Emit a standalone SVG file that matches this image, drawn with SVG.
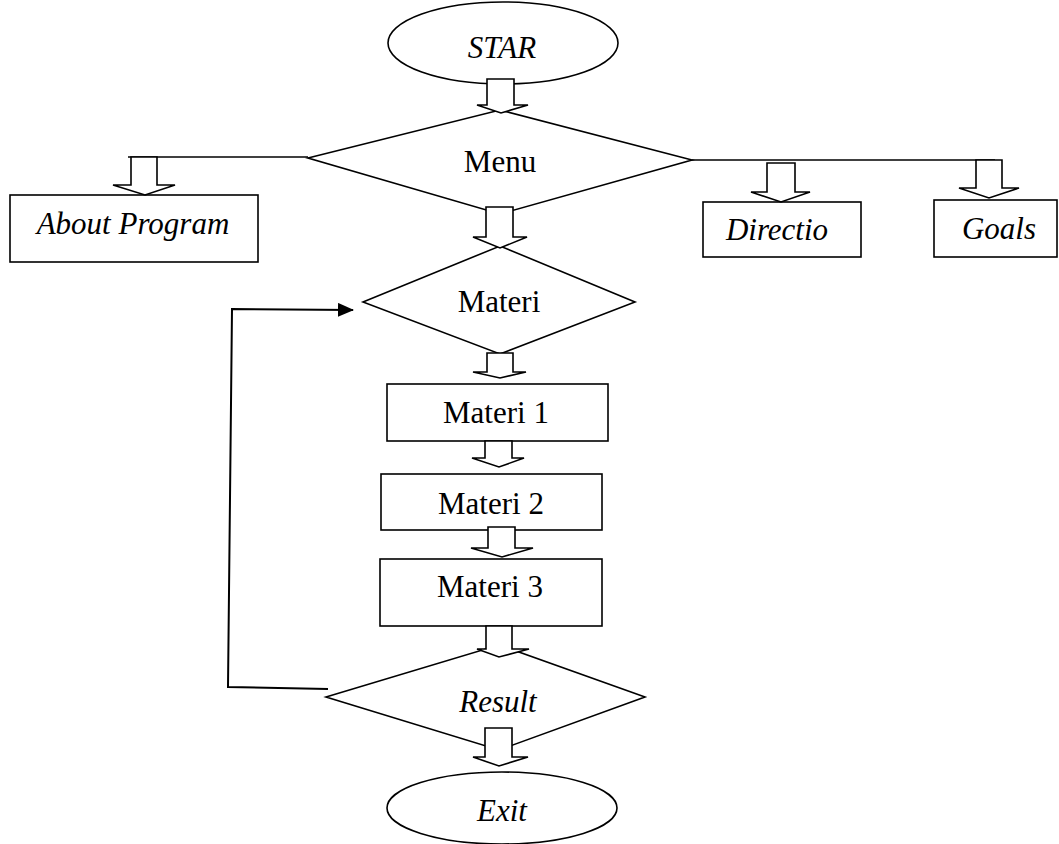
<svg xmlns="http://www.w3.org/2000/svg" width="1059" height="844" viewBox="0 0 1059 844">
<defs>
<style>
.s{fill:#fff;stroke:#000;stroke-width:1.6}
.l{fill:none;stroke:#000;stroke-width:1.6}
.lb{fill:none;stroke:#000;stroke-width:2}
.t{font-family:"Liberation Serif","Times New Roman",serif;font-size:31px;text-anchor:middle;fill:#000}
.i{font-style:italic}
.ba{fill:#fff;stroke:#000;stroke-width:1.6;stroke-linejoin:miter}
</style>
<marker id="ah" markerWidth="16" markerHeight="14" refX="15" refY="7" orient="auto" markerUnits="userSpaceOnUse" viewBox="0 0 16 14">
<path d="M0,0 L16,7 L0,14 z" fill="#000"/>
</marker>
</defs>
<g id="start"><ellipse class="s" cx="503" cy="43" rx="115" ry="41"/><text class="t i" x="502" y="58">STAR</text></g>
<g id="menu"><polygon class="s" points="308,158 500,110 692,160 500,214"/><text class="t" x="500" y="172">Menu</text></g>
<g id="about"><rect class="s" x="10" y="195" width="248" height="67"/><text class="t i" x="133" y="234">About Program</text></g>
<g id="directio"><rect class="s" x="703" y="202" width="158" height="55"/><text class="t i" x="777" y="240">Directio</text></g>
<g id="goals"><rect class="s" x="934" y="200" width="123" height="57"/><text class="t i" x="999" y="239">Goals</text></g>
<g id="materi"><polygon class="s" points="363,302 500,246 635,302 500,354"/><text class="t" x="499" y="312">Materi</text></g>
<g id="materi1"><rect class="s" x="387" y="384" width="221" height="57"/><text class="t" x="496" y="423">Materi 1</text></g>
<g id="materi2"><rect class="s" x="381" y="474" width="221" height="56"/><text class="t" x="491" y="514">Materi 2</text></g>
<g id="materi3"><rect class="s" x="380" y="559" width="222" height="67"/><text class="t" x="490" y="597">Materi 3</text></g>
<g id="result"><polygon class="s" points="326,697 499,645 645,697 499,750"/><text class="t i" x="498" y="712">Result</text></g>
<g id="exit"><ellipse class="s" cx="502" cy="808" rx="115" ry="36"/><text class="t i" x="502" y="821">Exit</text></g>
<g id="connectors">
<polyline class="l" points="308,157 128,157"/>
<polyline class="l" points="692,160 995,160"/>
<polyline class="lb" points="328,689 228,687 232,309 353,310" marker-end="url(#ah)"/>
<polygon class="ba" points="487,79 514,79 514,105 528,105 501,113 477,105 487,105"/>
<polygon class="ba" points="131,157 157,157 157,185 175,185 145,195 113,185 131,185"/>
<polygon class="ba" points="767,163 795,163 795,192 810,192 781,202 751,192 767,192"/>
<polygon class="ba" points="976,160 1002,160 1002,188 1019,188 989,198 959,188 976,188"/>
<polygon class="ba" points="486,207 513,207 513,237 527,237 500,248 473,237 486,237"/>
<polygon class="ba" points="487,353 513,353 513,372 526,372 500,378 473,372 487,372"/>
<polygon class="ba" points="485,441 512,441 512,458 524,458 499,467 472,458 485,458"/>
<polygon class="ba" points="488,527 515,527 515,548 533,548 502,557 471,548 488,548"/>
<polygon class="ba" points="486,626 512,626 512,649 529,649 499,657 477,649 486,649"/>
<polygon class="ba" points="485,728 512,728 512,757 528,757 499,766 473,757 485,757"/>
</g>
</svg>
